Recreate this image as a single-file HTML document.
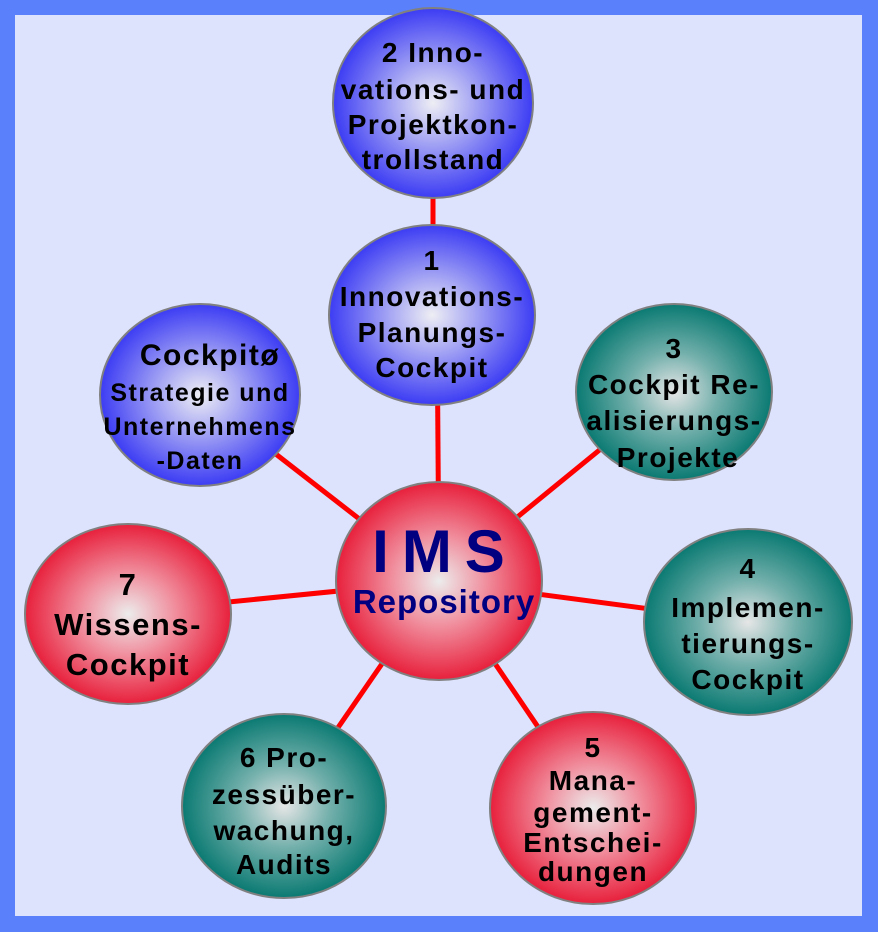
<!DOCTYPE html>
<html><head><meta charset="utf-8"><style>
html,body{margin:0;padding:0;background:#fff}
svg{display:block}
text{font-family:"Liberation Sans",Arial,sans-serif;font-weight:bold;text-anchor:middle;fill:#000}
</style></head><body>
<svg width="878" height="932" viewBox="0 0 878 932" xmlns="http://www.w3.org/2000/svg">
<defs>
<radialGradient id="b" cx="50%" cy="50%" r="50%"><stop offset="0" stop-color="#eeeef4"/><stop offset="0.4" stop-color="#a8a8f4"/><stop offset="1" stop-color="#3c3cf4"/></radialGradient>
<radialGradient id="r" cx="50%" cy="50%" r="50%"><stop offset="0" stop-color="#ececec"/><stop offset="0.45" stop-color="#f0909f"/><stop offset="1" stop-color="#e8203c"/></radialGradient>
<radialGradient id="t" cx="50%" cy="50%" r="50%"><stop offset="0" stop-color="#e6e6e6"/><stop offset="0.45" stop-color="#74b0ac"/><stop offset="1" stop-color="#0a7a72"/></radialGradient>
</defs>
<rect x="0" y="0" width="878" height="932" fill="#5b80fb"/>
<rect x="15" y="15" width="847" height="901" fill="#dde3fc"/>
<g stroke="#ff0000" stroke-width="5">
<line x1="433" y1="105" x2="433" y2="315"/>
<line x1="437" y1="315" x2="439" y2="581"/>
<line x1="200" y1="395" x2="439" y2="581"/>
<line x1="673" y1="390" x2="439" y2="581"/>
<line x1="128" y1="612" x2="439" y2="581"/>
<line x1="748" y1="622" x2="439" y2="581"/>
<line x1="593" y1="808" x2="439" y2="581"/>
<line x1="284" y1="806" x2="439" y2="581"/>
</g>
<g stroke="#808080" stroke-width="2">
<ellipse cx="433" cy="103" rx="100" ry="95" fill="url(#b)"/>
<ellipse cx="432" cy="315" rx="103" ry="90" fill="url(#b)"/>
<ellipse cx="200" cy="395" rx="100" ry="91" fill="url(#b)"/>
<ellipse cx="674" cy="392" rx="98" ry="88" fill="url(#t)"/>
<ellipse cx="439" cy="581" rx="103" ry="99" fill="url(#r)"/>
<ellipse cx="748" cy="622" rx="104" ry="93" fill="url(#t)"/>
<ellipse cx="128" cy="614" rx="103" ry="90" fill="url(#r)"/>
<ellipse cx="593" cy="808" rx="103" ry="96" fill="url(#r)"/>
<ellipse cx="284" cy="806" rx="102" ry="92" fill="url(#t)"/>
</g>
<g font-size="28" letter-spacing="1.5">
<text x="433" y="62">2 Inno-</text>
<text x="433" y="99">vations- und</text>
<text x="433" y="134">Projektkon-</text>
<text x="433" y="169">trollstand</text>

<text x="432" y="270">1</text>
<text x="432" y="306">Innovations-</text>
<text x="432" y="342">Planungs-</text>
<text x="432" y="377">Cockpit</text>

<text x="210" y="365" font-size="30">Cockpitø</text>
<text x="200" y="401" font-size="25">Strategie und</text>
<text x="200" y="435" font-size="25">Unternehmens</text>
<text x="200" y="469" font-size="25">-Daten</text>

<text x="674" y="358">3</text>
<text x="674" y="394">Cockpit Re-</text>
<text x="674" y="430">alisierungs-</text>
<text x="678" y="467">Projekte</text>

<text x="748" y="578">4</text>
<text x="748" y="617">Implemen-</text>
<text x="748" y="653">tierungs-</text>
<text x="748" y="689">Cockpit</text>

<text x="128" y="595" font-size="31">7</text>
<text x="128" y="635" font-size="31">Wissens-</text>
<text x="128" y="675" font-size="31">Cockpit</text>

<text x="593" y="757">5</text>
<text x="593" y="790">Mana-</text>
<text x="593" y="822">gement-</text>
<text x="593" y="852">Entschei-</text>
<text x="593" y="881">dungen</text>

<text x="284" y="767">6 Pro-</text>
<text x="284" y="804">zessüber-</text>
<text x="284" y="840">wachung,</text>
<text x="284" y="874">Audits</text>
</g>
<text x="445" y="572" font-size="60" letter-spacing="13" style="fill:#000080">IMS</text>
<text x="444" y="613" font-size="33" letter-spacing="1" style="fill:#000080">Repository</text>
</svg>
</body></html>
